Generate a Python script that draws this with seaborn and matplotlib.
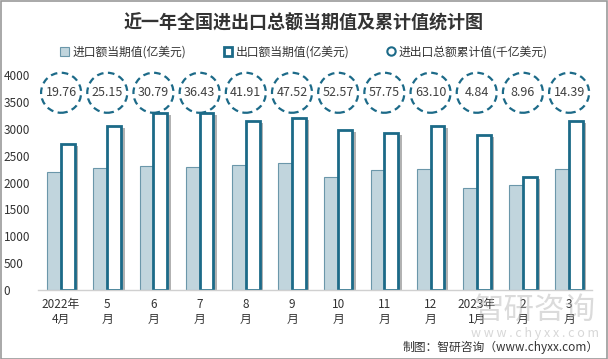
import matplotlib
matplotlib.use('Agg')
import matplotlib.pyplot as plt
import matplotlib.patheffects as pe
from matplotlib.lines import Line2D
from matplotlib.patches import Patch
import pandas as pd
import numpy as np
import seaborn as sns

months = ['2022年\n4月', '5\n月', '6\n月', '7\n月', '8\n月', '9\n月', '10\n月', '11\n月',
          '12\n月', '2023年\n1月', '2\n月', '3\n月']
imports = [2200, 2270, 2300, 2290, 2330, 2370, 2100, 2240, 2260, 1900, 1960, 2260]
exports = [2710, 3060, 3300, 3300, 3140, 3200, 2970, 2930, 3050, 2890, 2110, 3140]
cumulative = ['19.76', '25.15', '30.79', '36.43', '41.91', '47.52', '52.57', '57.75',
              '63.10', '4.84', '8.96', '14.39']

s_imp = '进口额当期值(亿美元)'
s_exp = '出口额当期值(亿美元)'
s_cum = '进出口总额累计值(千亿美元)'

df = pd.DataFrame({
    'month': months * 2,
    'value': imports + exports,
    'series': [s_imp] * 12 + [s_exp] * 12,
})

sns.set_theme(style='white')
plt.rcParams['font.family'] = ['Noto Sans CJK SC', 'DejaVu Sans']

dark = '#1c6a88'
light = '#c1d5dd'
light_edge = '#6b97aa'

fig = plt.figure(figsize=(6.08, 3.59), dpi=100)
ax = fig.add_axes([0.0625, 0.192, 0.9115, 0.599])

sns.barplot(data=df, x='month', y='value', hue='series', width=0.6, gap=0.0,
            ax=ax, legend=False, order=months, hue_order=[s_imp, s_exp])

for bar in ax.containers[0]:
    bar.set_facecolor(light)
    bar.set_edgecolor(light_edge)
    bar.set_linewidth(0.8)
for bar in ax.containers[1]:
    bar.set_facecolor('white')
    bar.set_edgecolor(dark)
    bar.set_linewidth(2)
    bar.set_path_effects([pe.SimplePatchShadow(offset=(2.5, -1.5), shadow_rgbFace='#555555', alpha=0.45),
                          pe.Normal()])

xs = np.arange(len(months))
circle_y = [3670] * len(months)
ax.scatter(xs, circle_y, s=830, facecolors='white', edgecolors=dark,
           linewidths=1.6, linestyles=(0, (3, 2)), clip_on=False, zorder=5)
for x, y, t in zip(xs, circle_y, cumulative):
    ax.text(x, y, t, ha='center', va='center', fontsize=9, color='#404040',
            zorder=6, clip_on=False)

ax.set_xlim(-0.5, 11.5)
ax.set_ylim(0, 4000)
ax.set_yticks(range(0, 4001, 500))
ax.tick_params(axis='y', labelsize=8.5, colors='#333333', pad=2, length=0)
ax.tick_params(axis='x', labelsize=8.5, colors='#333333', pad=6, length=0)
ax.set_xlabel('')
ax.set_ylabel('')
for side in ['top', 'right', 'left']:
    ax.spines[side].set_visible(False)
ax.spines['bottom'].set_color('#d0d0d0')
ax.spines['bottom'].set_linewidth(1)
for lab in ax.get_yticklabels():
    lab.set_horizontalalignment('left')
    lab.set_x(-0.057)

fig.text(0.5, 0.935, '近一年全国进出口总额当期值及累计值统计图', ha='center', va='center',
         fontsize=13, fontweight='bold', color='#333333')

handles = [
    Patch(facecolor=light, edgecolor=light_edge, linewidth=0.8, label=s_imp),
    Patch(facecolor='white', edgecolor=dark, linewidth=2, label=s_exp),
    Line2D([], [], marker='o', linestyle='none', markersize=6, markerfacecolor='white',
           markeredgecolor=dark, markeredgewidth=1.5, label=s_cum),
]
fig.legend(handles=handles, loc='center', bbox_to_anchor=(0.5, 0.855), ncol=3,
           frameon=False, fontsize=8.5, handlelength=0.7, handleheight=0.7,
           handletextpad=0.3, columnspacing=3.2, labelcolor='#333333')

fig.text(0.88, 0.135, '智研咨询', ha='center', va='center', fontsize=22,
         color='#b0b0b0', alpha=0.45, zorder=0)
fig.text(0.88, 0.07, 'w w w . c h y x x . c o m', ha='center', va='center', fontsize=9,
         color='#b0b0b0', alpha=0.5, zorder=0)
fig.text(0.985, 0.033, '制图：智研咨询（www.chyxx.com）', ha='right', va='center',
         fontsize=8.5, color='#333333')

fig.patches.append(plt.Rectangle((0.001, 0.001), 0.998, 0.997, transform=fig.transFigure,
                                 fill=False, edgecolor='#999999', linewidth=1.2))

fig.savefig('out.png', dpi=100)
